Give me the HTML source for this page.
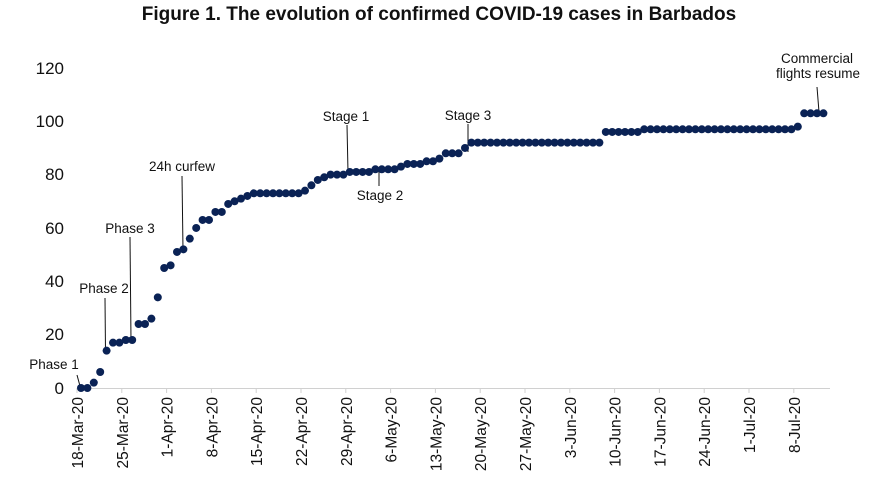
<!DOCTYPE html>
<html><head><meta charset="utf-8"><style>
body{margin:0;background:#fff;}
svg{display:block;font-family:"Liberation Sans",Arial,sans-serif;}
</style></head><body>
<svg id="c" width="879" height="498" viewBox="0 0 879 498" xmlns="http://www.w3.org/2000/svg">
<text x="439" y="20" text-anchor="middle" font-size="19" font-weight="bold" fill="#111">Figure 1. The evolution of confirmed COVID-19 cases in Barbados</text>
<g font-size="17" fill="#111" text-anchor="end">
<text x="64" y="394">0</text><text x="64" y="340">20</text><text x="64" y="287">40</text>
<text x="64" y="234">60</text><text x="64" y="180">80</text><text x="64" y="127">100</text><text x="64" y="74">120</text>
</g>
<line x1="77" y1="388.5" x2="830" y2="388.5" stroke="#d0d0d0" stroke-width="1"/>
<g id="ticks" stroke="#d0d0d0"></g>
<g id="xl" font-size="15.5" fill="#111"></g>
<g stroke="#111" stroke-width="1">
<line x1="77" y1="375" x2="80" y2="386"/>
<line x1="105" y1="298" x2="105.5" y2="352"/>
<line x1="130" y1="237" x2="131" y2="341"/>
<line x1="182" y1="176" x2="183" y2="250"/>
<line x1="347" y1="125" x2="348" y2="172"/>
<line x1="379" y1="170" x2="379" y2="186"/>
<line x1="468" y1="124" x2="468" y2="152"/>
<line x1="817" y1="87" x2="819" y2="112"/>
</g>
<g font-size="13.5" fill="#111" text-anchor="middle">
<text x="54" y="369">Phase 1</text>
<text x="104" y="293">Phase 2</text>
<text x="130" y="233">Phase 3</text>
<text x="182" y="171">24h curfew</text>
<text x="346" y="121">Stage 1</text>
<text x="380" y="200">Stage 2</text>
<text x="468" y="120">Stage 3</text>
<text x="817" y="63">Commercial</text>
<text x="818" y="78">flights resume</text>
</g>
<g id="dots" fill="#0a2255"></g>
</svg>
<script>
var v=[0,0,2,6,14,17,17,18,18,24,24,26,34,45,46,51,52,56,60,63,63,66,66,69,70,71,72];
for(var i=27;i<=34;i++)v.push(73);
v.push(74,76,78,79,80,80,80,81,81,81,81,82,82,82,82,83,84,84,84,85,85,86,88,88,88,90);
for(i=61;i<=81;i++)v.push(92);
for(i=82;i<=87;i++)v.push(96);
for(i=88;i<=111;i++)v.push(97);
v.push(98,103,103,103,103);
var ns="http://www.w3.org/2000/svg",g=document.getElementById("dots");
v.forEach(function(val,d){var c=document.createElementNS(ns,"circle");c.setAttribute("cx",81+6.4*d);c.setAttribute("cy",388-2.667*val);c.setAttribute("r",4);g.appendChild(c);});
var labs=["18-Mar-20","25-Mar-20","1-Apr-20","8-Apr-20","15-Apr-20","22-Apr-20","29-Apr-20","6-May-20","13-May-20","20-May-20","27-May-20","3-Jun-20","10-Jun-20","17-Jun-20","24-Jun-20","1-Jul-20","8-Jul-20"];
var t=document.getElementById("ticks"),xl=document.getElementById("xl");
labs.forEach(function(l,k){var x=77+44.8*k;var ln=document.createElementNS(ns,"line");ln.setAttribute("x1",x);ln.setAttribute("x2",x);ln.setAttribute("y1",388);ln.setAttribute("y2",393);t.appendChild(ln);
var tx=document.createElementNS(ns,"text");tx.setAttribute("transform","translate("+(x+6)+",397) rotate(-90)");tx.setAttribute("text-anchor","end");tx.textContent=l;xl.appendChild(tx);});
</script>
</body></html>
